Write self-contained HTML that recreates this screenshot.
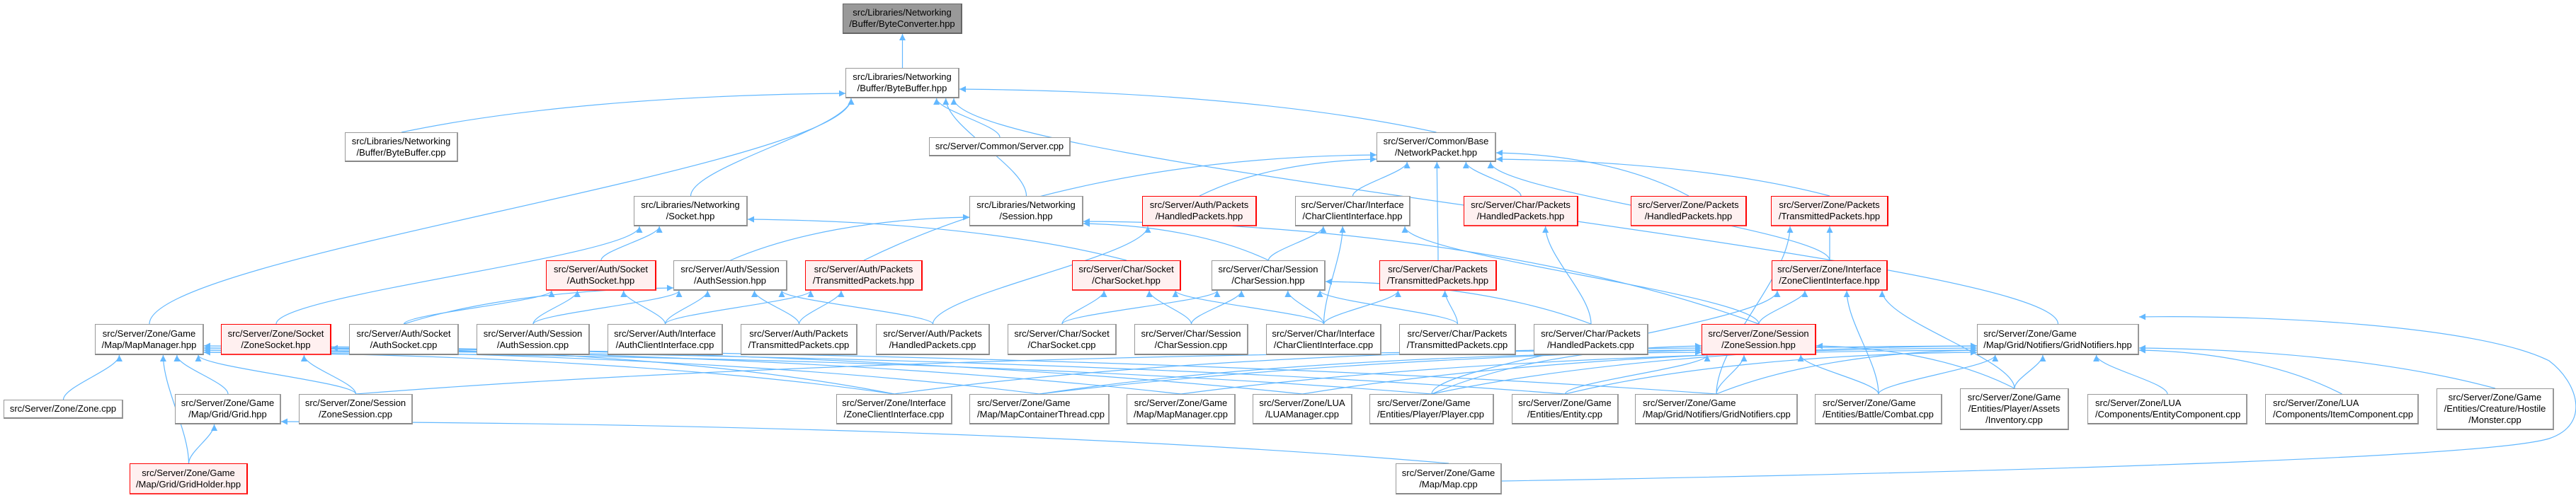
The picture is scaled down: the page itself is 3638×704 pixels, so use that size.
<!DOCTYPE html>
<html><head><meta charset="utf-8">
<style>
html,body{margin:0;padding:0;background:#fff;}
#c{position:relative;width:3638px;height:704px;overflow:hidden;background:#fff;}
svg{position:absolute;left:0;top:0;}
.n{position:absolute;box-sizing:border-box;background:#fff;border:1px solid #999;border-bottom:2px solid #888;border-right:2px solid #999;
font-family:"Liberation Sans",Arial,sans-serif;font-size:13px;line-height:16px;color:#000;display:flex;align-items:center;justify-content:center;text-align:center;white-space:nowrap;}
.r{background:#fff0f0;border-color:#f00;border-bottom-color:#f33;}
.g{background:#999;border-color:#666;}
.l{text-align:left;}
</style></head><body>
<div id="c">
<svg id="s" width="3638" height="704" xmlns="http://www.w3.org/2000/svg">
<defs><marker id="a" viewBox="0 0 10 10" refX="10" refY="5" markerWidth="11" markerHeight="9" markerUnits="userSpaceOnUse" orient="auto"><path d="M0,0 L10,5 L0,10 z" fill="#63b8ff"/></marker></defs>
<g id="e" fill="none" stroke="#63b8ff" stroke-width="1.2"></g>
</svg>
<div class="n g" style="left:1190px;top:5px;width:169px;height:43px">src/Libraries/Networking<br>/Buffer/ByteConverter.hpp</div>
<div class="n" id="bb" style="left:1194px;top:96px;width:161px;height:43px">src/Libraries/Networking<br>/Buffer/ByteBuffer.hpp</div>
<div class="n" style="left:487px;top:187px;width:160px;height:42px">src/Libraries/Networking<br>/Buffer/ByteBuffer.cpp</div>
<div class="n" style="left:1312px;top:194px;width:200px;height:27px">src/Server/Common/Server.cpp</div>
<div class="n" style="left:1944px;top:187px;width:169px;height:42px">src/Server/Common/Base<br>/NetworkPacket.hpp</div>
<div class="n" style="left:895px;top:277px;width:161px;height:43px">src/Libraries/Networking<br>/Socket.hpp</div>
<div class="n" style="left:1369px;top:277px;width:161px;height:43px">src/Libraries/Networking<br>/Session.hpp</div>
<div class="n r" style="left:1613px;top:277px;width:162px;height:43px">src/Server/Auth/Packets<br>/HandledPackets.hpp</div>
<div class="n" style="left:1829px;top:277px;width:163px;height:43px">src/Server/Char/Interface<br>/CharClientInterface.hpp</div>
<div class="n r" style="left:2067px;top:277px;width:162px;height:43px">src/Server/Char/Packets<br>/HandledPackets.hpp</div>
<div class="n r" style="left:2303px;top:277px;width:164px;height:43px">src/Server/Zone/Packets<br>/HandledPackets.hpp</div>
<div class="n r" style="left:2501px;top:277px;width:166px;height:43px">src/Server/Zone/Packets<br>/TransmittedPackets.hpp</div>
<div class="n r" style="left:771px;top:368px;width:156px;height:43px">src/Server/Auth/Socket<br>/AuthSocket.hpp</div>
<div class="n" style="left:951px;top:368px;width:161px;height:43px">src/Server/Auth/Session<br>/AuthSession.hpp</div>
<div class="n r" style="left:1137px;top:368px;width:166px;height:43px">src/Server/Auth/Packets<br>/TransmittedPackets.hpp</div>
<div class="n r" style="left:1514px;top:368px;width:154px;height:43px">src/Server/Char/Socket<br>/CharSocket.hpp</div>
<div class="n" style="left:1711px;top:368px;width:161px;height:43px">src/Server/Char/Session<br>/CharSession.hpp</div>
<div class="n r" style="left:1948px;top:368px;width:166px;height:43px">src/Server/Char/Packets<br>/TransmittedPackets.hpp</div>
<div class="n r" style="left:2502px;top:368px;width:164px;height:43px">src/Server/Zone/Interface<br>/ZoneClientInterface.hpp</div>
<div class="n" style="left:134px;top:458px;width:154px;height:44px">src/Server/Zone/Game<br>/Map/MapManager.hpp</div>
<div class="n r" style="left:312px;top:458px;width:156px;height:44px">src/Server/Zone/Socket<br>/ZoneSocket.hpp</div>
<div class="n" style="left:493px;top:458px;width:155px;height:44px">src/Server/Auth/Socket<br>/AuthSocket.cpp</div>
<div class="n" style="left:673px;top:458px;width:160px;height:44px">src/Server/Auth/Session<br>/AuthSession.cpp</div>
<div class="n" style="left:858px;top:458px;width:163px;height:44px">src/Server/Auth/Interface<br>/AuthClientInterface.cpp</div>
<div class="n" style="left:1046px;top:458px;width:165px;height:44px">src/Server/Auth/Packets<br>/TransmittedPackets.cpp</div>
<div class="n" style="left:1237px;top:458px;width:161px;height:44px">src/Server/Auth/Packets<br>/HandledPackets.cpp</div>
<div class="n" style="left:1423px;top:458px;width:154px;height:44px">src/Server/Char/Socket<br>/CharSocket.cpp</div>
<div class="n" style="left:1602px;top:458px;width:161px;height:44px">src/Server/Char/Session<br>/CharSession.cpp</div>
<div class="n" style="left:1788px;top:458px;width:163px;height:44px">src/Server/Char/Interface<br>/CharClientInterface.cpp</div>
<div class="n" style="left:1976px;top:458px;width:165px;height:44px">src/Server/Char/Packets<br>/TransmittedPackets.cpp</div>
<div class="n" style="left:2166px;top:458px;width:162px;height:44px">src/Server/Char/Packets<br>/HandledPackets.cpp</div>
<div class="n r" style="left:2403px;top:458px;width:162px;height:44px">src/Server/Zone/Session<br>/ZoneSession.hpp</div>
<div class="n l" style="left:2792px;top:458px;width:229px;height:44px">src/Server/Zone/Game<br>/Map/Grid/Notifiers/GridNotifiers.hpp</div>
<div class="n" style="left:5px;top:565px;width:169px;height:27px">src/Server/Zone/Zone.cpp</div>
<div class="n" style="left:247px;top:557px;width:150px;height:43px">src/Server/Zone/Game<br>/Map/Grid/Grid.hpp</div>
<div class="n" style="left:422px;top:557px;width:161px;height:43px">src/Server/Zone/Session<br>/ZoneSession.cpp</div>
<div class="n" style="left:1181px;top:557px;width:164px;height:43px">src/Server/Zone/Interface<br>/ZoneClientInterface.cpp</div>
<div class="n l" style="left:1369px;top:557px;width:198px;height:43px;padding-left:10px;justify-content:flex-start">src/Server/Zone/Game<br>/Map/MapContainerThread.cpp</div>
<div class="n" style="left:1591px;top:557px;width:154px;height:43px">src/Server/Zone/Game<br>/Map/MapManager.cpp</div>
<div class="n" style="left:1769px;top:557px;width:141px;height:43px">src/Server/Zone/LUA<br>/LUAManager.cpp</div>
<div class="n l" style="left:1934px;top:557px;width:176px;height:43px;padding-left:10px;justify-content:flex-start">src/Server/Zone/Game<br>/Entities/Player/Player.cpp</div>
<div class="n" style="left:2135px;top:557px;width:151px;height:43px">src/Server/Zone/Game<br>/Entities/Entity.cpp</div>
<div class="n l" style="left:2309px;top:557px;width:230px;height:43px;padding-left:10px;justify-content:flex-start">src/Server/Zone/Game<br>/Map/Grid/Notifiers/GridNotifiers.cpp</div>
<div class="n l" style="left:2563px;top:557px;width:180px;height:43px;padding-left:10px;justify-content:flex-start">src/Server/Zone/Game<br>/Entities/Battle/Combat.cpp</div>
<div class="n" style="left:2768px;top:549px;width:154px;height:59px">src/Server/Zone/Game<br>/Entities/Player/Assets<br>/Inventory.cpp</div>
<div class="n l" style="left:2948px;top:557px;width:226px;height:43px;padding-left:10px;justify-content:flex-start">src/Server/Zone/LUA<br>/Components/EntityComponent.cpp</div>
<div class="n l" style="left:3199px;top:557px;width:217px;height:43px;padding-left:10px;justify-content:flex-start">src/Server/Zone/LUA<br>/Components/ItemComponent.cpp</div>
<div class="n" style="left:3441px;top:549px;width:166px;height:59px">src/Server/Zone/Game<br>/Entities/Creature/Hostile<br>/Monster.cpp</div>
<div class="n r" style="left:183px;top:655px;width:167px;height:44px">src/Server/Zone/Game<br>/Map/Grid/GridHolder.hpp</div>
<div class="n" style="left:1971px;top:655px;width:150px;height:44px">src/Server/Zone/Game<br>/Map/Map.cpp</div>
</div>
<script>
var N={bc:[1190,1359,5,48],bb:[1194,1355,96,139],bbcpp:[487,647,187,229],srv:[1312,1512,194,221],np:[1944,2113,187,229],
sock:[895,1056,277,320],sess:[1369,1530,277,320],ahp:[1613,1775,277,320],cci:[1829,1992,277,320],chp:[2067,2229,277,320],zhp:[2303,2467,277,320],ztp:[2501,2667,277,320],
aso:[771,927,368,411],ase:[951,1112,368,411],atp:[1137,1303,368,411],cso:[1514,1668,368,411],cse:[1711,1872,368,411],ctp:[1948,2114,368,411],zci:[2502,2666,368,411],
mm:[134,288,458,502],zso:[312,468,458,502],asoc:[493,648,458,502],asec:[673,833,458,502],acic:[858,1021,458,502],atpc:[1046,1211,458,502],ahpc:[1237,1398,458,502],
csoc:[1423,1577,458,502],csec:[1602,1763,458,502],ccic:[1788,1951,458,502],ctpc:[1976,2141,458,502],chpc:[2166,2328,458,502],zse:[2403,2565,458,502],gn:[2792,3021,458,502],
zone:[5,174,565,592],grid:[247,397,557,600],zsec:[422,583,557,600],zcic:[1181,1345,557,600],mct:[1369,1567,557,600],mmc:[1591,1745,557,600],lua:[1769,1910,557,600],
player:[1934,2110,557,600],entity:[2135,2286,557,600],gnc:[2309,2539,557,600],combat:[2563,2743,557,600],inv:[2768,2922,549,608],ec:[2948,3174,557,600],ic:[3199,3416,557,600],mon:[3441,3607,549,608],
gh:[183,350,655,699],map:[1971,2121,655,699]};
var E=[["bb","bc"],["bbcpp","bb"],["srv","bb"],["np","bb"],["sock","bb"],["sess","bb"],["mm","bb"],["gn","bb"],
["ahp","np"],["cci","np"],["chp","np"],["zhp","np"],["ztp","np"],["ctp","np"],["atp","np"],["zci","np"],
["aso","sock"],["zso","sock"],["cso","sock"],["ase","sess"],["cse","sess"],["zse","sess"],
["cse","cci"],["ccic","cci"],["zse","cci"],
["asoc","aso"],["asec","aso"],["acic","aso"],["asoc","ase"],["asec","ase"],["acic","ase"],["ahpc","ase"],["atpc","ase"],
["acic","atp"],["atpc","atp"],["ahpc","ahp"],
["csoc","cso"],["csec","cso"],["ccic","cso"],["csoc","cse"],["csec","cse"],["ccic","cse"],["ctpc","cse"],["chpc","cse"],
["ccic","ctp"],["ctpc","ctp"],["chpc","chp"],
["zci","ztp"],["gnc","ztp"],["zse","zci"],["combat","zci"],["inv","zci"],["player","zci"],
["zsec","zse"],["zcic","zse"],["player","zse"],["combat","zse"],["gnc","zse"],["entity","zse"],["inv","zse"],["mct","zse"],
["gnc","gn"],["combat","gn"],["inv","gn"],["ec","gn"],["ic","gn"],["mon","gn"],["player","gn"],["entity","gn"],["mmc","gn"],["lua","gn"],["mct","gn"],
["zone","mm"],["grid","mm"],["gh","mm"],["zsec","mm"],["zcic","mm"],["mct","mm"],["mmc","mm"],["lua","mm"],["player","mm"],["entity","mm"],["gnc","mm"],
["gh","grid"],["map","grid"],["zsec","zso"],["zcic","zso"]];
var g=document.getElementById("e"),d="";
function cx(b){return (b[0]+b[1])/2;}
E.forEach(function(p,i){var c=N[p[0]],t=N[p[1]];var sx,sy,ex,ey,path;
 sx=cx(c);sy=c[2];
 var dy=sy-t[3];
 var hd=sx<t[0]?t[0]-sx:(sx>t[1]?sx-t[1]:0);
 if(dy>5 && hd<5*dy){var tx=cx(t)+(sx-cx(t))*0.35;tx=Math.max(t[0]+8,Math.min(t[1]-8,tx));ex=tx;ey=t[3];
  var m=(sy-ey)/2;path="M"+sx+","+sy+" C"+sx+","+(sy-m*0.6)+" "+ex+","+(ey+m*0.6)+" "+ex+","+ey;}
 else{ex=sx>cx(t)?t[1]:t[0];ey=t[3]-4-(i%4)*3;
  var dx=ex-sx;
  path="M"+sx+","+sy+" C"+(sx+dx*0.25)+","+(sy-Math.max(8,(sy-ey)*0.6))+" "+(ex-dx*0.4)+","+(ey+2)+" "+ex+","+ey;}
 d+='<path d="'+path+'" marker-end="url(#a)"/>';});
d+='<path d="M2121,680 C2700,670 3500,650 3600,620 C3660,600 3640,540 3600,510 C3500,460 3200,445 3021,448" marker-end="url(#a)"/>';
g.innerHTML=d;
</script>
</body></html>
